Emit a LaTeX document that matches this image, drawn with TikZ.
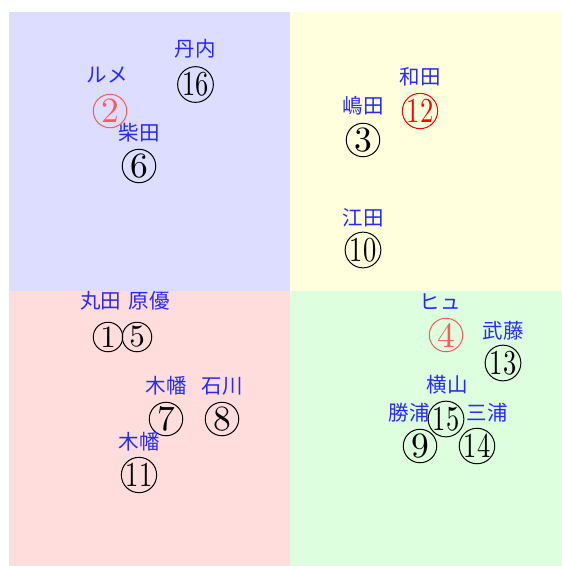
\documentclass[tikz,border=0pt]{standalone}
\usepackage{fontspec}
\newfontfamily\jp{Noto Sans CJK JP}
\definecolor{qblue}{RGB}{221,221,255}
\definecolor{qyellow}{RGB}{255,255,221}
\definecolor{qred}{RGB}{255,221,221}
\definecolor{qgreen}{RGB}{221,255,221}
\definecolor{lblue}{RGB}{40,40,255}
\definecolor{lightred}{RGB}{255,90,90}
\tikzset{
  lab/.style={text=lblue, font=\jp\fontsize{20.5}{20.5}\selectfont, inner sep=0pt},
  num/.style={circle, draw=black, line width=1pt, minimum size=33.5pt, inner sep=0pt},
  smallnum/.style={num, minimum size=29.5pt},
  hot/.style={draw=red, text=red},
  warm/.style={draw=lightred, text=lightred},
}
\newcommand{\one}[1]{\scalebox{3.55}{#1}}
\newcommand{\tw}[1]{\scalebox{2.65}[3.5]{#1}}
\newcommand{\sm}[1]{\scalebox{3.1}{#1}}
\begin{document}
\begin{tikzpicture}[x=1pt,y=-1pt]
\useasboundingbox (0,0) rectangle (562,566);
\fill[qblue] (9,12) rectangle (290,291);
\fill[qyellow] (290,12) rectangle (562,291);
\fill[qred] (9,291) rectangle (290,566);
\fill[qgreen] (290,291) rectangle (562,566);
% top-left
\node[lab] (l16) at (195,49) {丹内};
\node[num] (n16) at (195.5,84.5) {\tw{16}};
\node[lab] (l2) at (107,75) {ルメ};
\node[num,warm] (n2) at (110,111) {\one{2}};
\node[lab] (l6) at (139,133) {柴田};
\node[num] (n6) at (139,166) {\one{6}};
% top-right
\node[lab] (l12) at (420,77) {和田};
\node[num,hot] (n12) at (420,111) {\tw{12}};
\node[lab] (l3) at (363,106) {嶋田};
\node[num] (n3) at (363,140) {\one{3}};
\node[lab] (l10) at (363,218) {江田};
\node[num] (n10) at (363,250) {\tw{10}};
% bottom-left
\node[lab] (l15a) at (125,301) {丸田\hspace{8pt}原優};
\node[smallnum] (n1) at (108,337) {\sm{1}};
\node[smallnum] (n5) at (137,337) {\sm{5}};
\node[lab] (l7) at (166,386) {木幡};
\node[num] (n7) at (166,419) {\one{7}};
\node[lab] (l8) at (222,386) {石川};
\node[num] (n8) at (222,419) {\one{8}};
\node[lab] (l11) at (139,442) {木幡};
\node[num] (n11) at (139,475) {\tw{11}};
% bottom-right
\node[lab] (l4) at (440,302) {ヒュ};
\node[num,warm] (n4) at (446,335) {\one{4}};
\node[lab] (l13) at (503,331) {武藤};
\node[num] (n13) at (503,363) {\tw{13}};
\node[lab] (l15) at (447,385) {横山};
\node[num] (n15) at (446,419) {\tw{15}};
\node[lab] (l9) at (409,413) {勝浦};
\node[lab] (l14) at (487,413) {三浦};
\node[num] (n9) at (420,446) {\one{9}};
\node[num] (n14) at (477,446) {\tw{14}};
\end{tikzpicture}
\end{document}
